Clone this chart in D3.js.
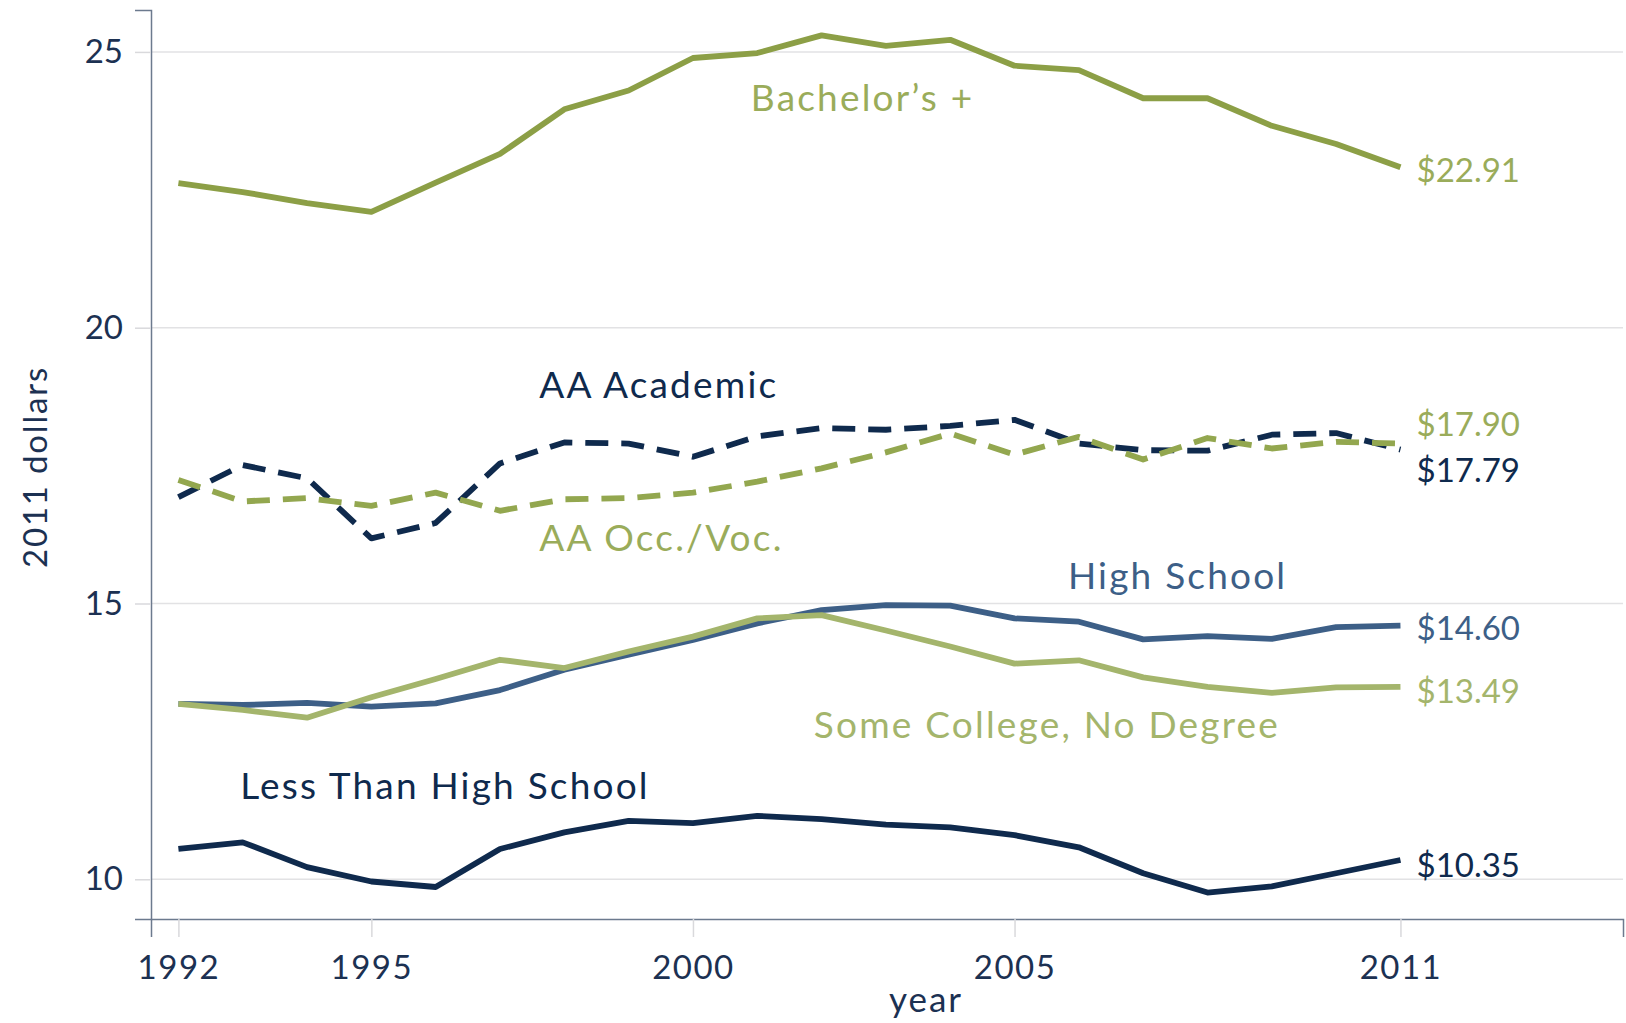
<!DOCTYPE html>
<html>
<head>
<meta charset="utf-8">
<script src="https://d3js.org/d3.v7.min.js"></script>
<style>
  body { margin: 0; background: #fff; }
  text { font-family: Lato, "Open Sans", sans-serif; }
</style>
<title>Hourly wages by education</title>
</head>
<body>
<div id="chart"></div>
<script>
  // data (2011 dollars)
  var years = [1992, 1993, 1994, 1995, 1996, 1997, 1998, 1999, 2000, 2001,
               2002, 2003, 2004, 2005, 2006, 2007, 2008, 2009, 2010, 2011];
  var bachelors   = [22.62, 22.46, 22.26, 22.10, 22.63, 23.15, 23.96, 24.30, 24.89, 24.98,
                     25.30, 25.11, 25.22, 24.75, 24.67, 24.16, 24.16, 23.66, 23.33, 22.91];
  var aaAcademic  = [16.93, 17.51, 17.27, 16.18, 16.46, 17.54, 17.92, 17.90, 17.66, 18.03,
                     18.18, 18.15, 18.22, 18.33, 17.90, 17.78, 17.77, 18.06, 18.09, 17.79];
  var aaOccVoc    = [17.24, 16.85, 16.91, 16.77, 17.01, 16.68, 16.89, 16.91, 17.01, 17.21,
                     17.45, 17.74, 18.08, 17.70, 18.02, 17.61, 18.00, 17.81, 17.93, 17.90];
  var highSchool  = [13.18, 13.16, 13.20, 13.13, 13.19, 13.43, 13.80, 14.07, 14.34, 14.64,
                     14.88, 14.97, 14.96, 14.73, 14.67, 14.35, 14.41, 14.36, 14.57, 14.60];
  var someCollege = [13.18, 13.07, 12.93, 13.30, 13.63, 13.98, 13.83, 14.13, 14.40, 14.73,
                     14.79, 14.51, 14.22, 13.91, 13.97, 13.66, 13.49, 13.38, 13.48, 13.49];
  var lessThanHS  = [10.55, 10.67, 10.22, 9.96, 9.86, 10.55, 10.85, 11.06, 11.02, 11.15,
                     11.09, 10.99, 10.94, 10.80, 10.58, 10.11, 9.76, 9.87, 10.11, 10.35];
  var endLabels = ["$22.91", "$17.79", "$17.90", "$14.60", "$13.49", "$10.35"];
  var yTicks = [10, 15, 20, 25];
  var xTicks = [1992, 1995, 2000, 2005, 2011];

  var W = 1626, H = 1023;
  var padL = 151, padR = 1623, padT = 10, padB = 919;

  var navy = "#0f2a4d", blue = "#3d5f87", olive = "#8c9f46", oliveLight = "#a4b56c";

  // series table: name, values, colour, dash, end label, label spot (year, value), end label offset
  var series = [
    { name: "Bachelor\u2019s +", v: bachelors, c: olive, txt: "#9aac5a", dash: null, end: endLabels[0], lx: 2000.90, ly: 23.93, off: 3 },
    { name: "AA Academic", v: aaAcademic, c: navy, txt: navy, dash: "23,13", end: endLabels[1], lx: 1997.61, ly: 18.73, off: 21 },
    { name: "AA Occ./Voc.", v: aaOccVoc, c: "#93a74f", txt: "#9aac5a", dash: "23,13", end: endLabels[2], lx: 1997.61, ly: 15.95, off: -19 },
    { name: "High School", v: highSchool, c: blue, txt: blue, dash: null, end: endLabels[3], lx: 2005.83, ly: 15.26, off: 3 },
    { name: "Some College, No Degree", v: someCollege, c: oliveLight, txt: oliveLight, dash: null, end: endLabels[4], lx: 2001.88, ly: 12.56, off: 5 },
    { name: "Less Than High School", v: lessThanHS, c: navy, txt: navy, dash: null, end: endLabels[5], lx: 1992.96, ly: 11.46, off: 5 }
  ];

  var x = d3.scaleLinear().domain([1991.574, 2014.46]).range([padL, padR]);
  var y = d3.scaleLinear().domain([9.28, 25.76]).range([padB, padT]);

  var svg = d3.select("#chart").append("svg")
    .attr("width", W).attr("height", H);

  // grid lines
  svg.append("g").selectAll("line").data(yTicks).enter().append("line")
    .attr("x1", padL).attr("x2", padR)
    .attr("y1", function (d) { return y(d); })
    .attr("y2", function (d) { return y(d); })
    .attr("stroke", "#e2e2e4").attr("stroke-width", 1.5);

  // y axis
  var gy = svg.append("g").attr("transform", "translate(" + padL + ",0)")
    .call(d3.axisLeft(y).tickValues(yTicks).tickSize(16).tickPadding(12));
  gy.select(".domain").attr("stroke", "#6c7a8e").attr("stroke-width", 1.5);
  gy.selectAll(".tick line").attr("stroke", "#d9d9dc").attr("stroke-width", 1.5);
  gy.selectAll(".tick text").attr("fill", "#1c3152").style("font-size", "33px");

  // x axis
  var gx = svg.append("g").attr("transform", "translate(0," + padB + ")")
    .call(d3.axisBottom(x).tickValues(xTicks).tickFormat(d3.format("d")).tickSize(18).tickPadding(19));
  gx.select(".domain").attr("stroke", "#6c7a8e").attr("stroke-width", 1.5);
  gx.selectAll(".tick line").attr("stroke", "#d9d9dc").attr("stroke-width", 1.5);
  gx.selectAll(".tick text").attr("fill", "#1c3152")
    .style("font-size", "33px").style("letter-spacing", "1.5px");

  // axis titles
  svg.append("text").attr("x", 926).attr("y", 1012)
    .attr("text-anchor", "middle").attr("fill", "#1c3152")
    .style("font-size", "35px").style("letter-spacing", "2px").text("year");
  svg.append("text").attr("transform", "translate(47,467) rotate(-90)")
    .attr("text-anchor", "middle").attr("fill", "#1c3152")
    .style("font-size", "33px").style("letter-spacing", "1.8px").text("2011 dollars");

  var line = d3.line()
    .x(function (d, i) { return x(years[i]); })
    .y(function (d) { return y(d); });

  svg.append("g").selectAll("path").data(series).enter().append("path")
    .attr("d", function (s) { return line(s.v); })
    .attr("fill", "none")
    .attr("stroke", function (s) { return s.c; })
    .attr("stroke-width", 5.8)
    .attr("stroke-linejoin", "round")
    .attr("stroke-dasharray", function (s) { return s.dash; });

  // series names
  svg.append("g").selectAll("text").data(series).enter().append("text")
    .attr("x", function (s) { return x(s.lx); })
    .attr("y", function (s) { return y(s.ly); })
    .attr("fill", function (s) { return s.txt; })
    .style("font-size", "37px").style("letter-spacing", "2.2px")
    .text(function (s) { return s.name; });

  // end values
  svg.append("g").selectAll("text").data(series).enter().append("text")
    .attr("x", 1520)
    .attr("y", function (s) { return y(s.v[s.v.length - 1]) + s.off; })
    .attr("dy", "0.35em")
    .attr("text-anchor", "end")
    .attr("fill", function (s) { return s.txt; })
    .style("font-size", "33px")
    .text(function (s) { return s.end; });
</script>
</body>
</html>
